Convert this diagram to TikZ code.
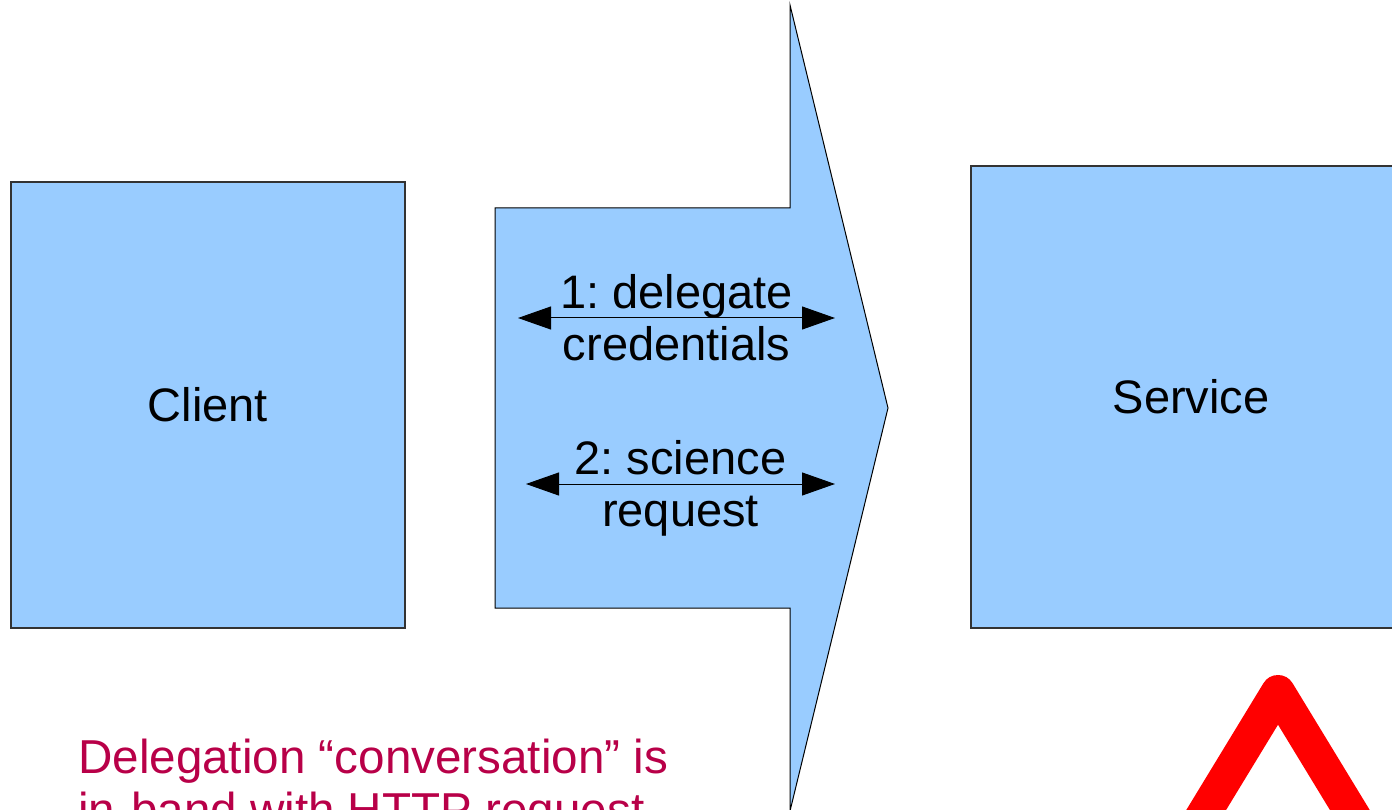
\documentclass[tikz,border=0pt]{standalone}
\usepackage{fontspec}
\setmainfont{Liberation Sans}
\usetikzlibrary{arrows.meta}
\definecolor{boxblue}{HTML}{99CCFF}
\definecolor{boxline}{HTML}{333333}
\definecolor{notered}{RGB}{184,0,72}
\frenchspacing
\begin{document}
\begin{tikzpicture}[x=1pt,y=-1pt,
  party/.style={draw=boxline,line width=1.5pt,fill=boxblue,inner sep=0pt,
    font=\fontsize{47}{54}\selectfont},
  channel/.style={draw=black,line width=1pt,fill=boxblue,line join=miter},
  exchange/.style={draw=black,line width=1pt,
    {Triangle[length=33pt,width=23pt]}-{Triangle[length=33pt,width=23pt]}},
  steplabel/.style={align=center,inner sep=0pt,font=\fontsize{47}{52}\selectfont},
  note/.style={align=left,inner sep=0pt,text=notered,anchor=north west,
    font=\fontsize{47.6}{53}\selectfont},
  warning/.style={draw=red,line width=34pt,line join=round}]
\useasboundingbox (0,0) rectangle (1392,810);
\clip (0,0) rectangle (1392,810);

% the two parties
\node[party,minimum width=394pt,minimum height=446pt] (client) at (208,405) {Client};
\node[party,minimum width=440pt,minimum height=462pt] (service) at (1191,397) {Service};

% the channel between them, drawn as a block arrow
\draw[channel] (495,208) -- (790,208) -- (790,5) -- (888,408)
  -- (790,811) -- (790,608) -- (495,608) -- cycle;

% exchanges carried in the channel
\coordinate (ex1l) at (518,318);
\coordinate (ex1r) at (835,318);
\coordinate (ex2l) at (526,484);
\coordinate (ex2r) at (835,484);
\draw[exchange] (ex1l) -- node[steplabel] (lbl1) {1: delegate\\credentials} (ex1r);
\draw[exchange] (ex2l) -- node[steplabel,yshift=-4pt] (lbl2) {2: science\\request} (ex2r);

% remark
\node[note] (remark) at (78,739) {Delegation “conversation” is\\in-band with HTTP request};

% warning caret
\draw[warning] (1194,830) -- (1278,692) -- (1362,830);
\end{tikzpicture}
\end{document}
